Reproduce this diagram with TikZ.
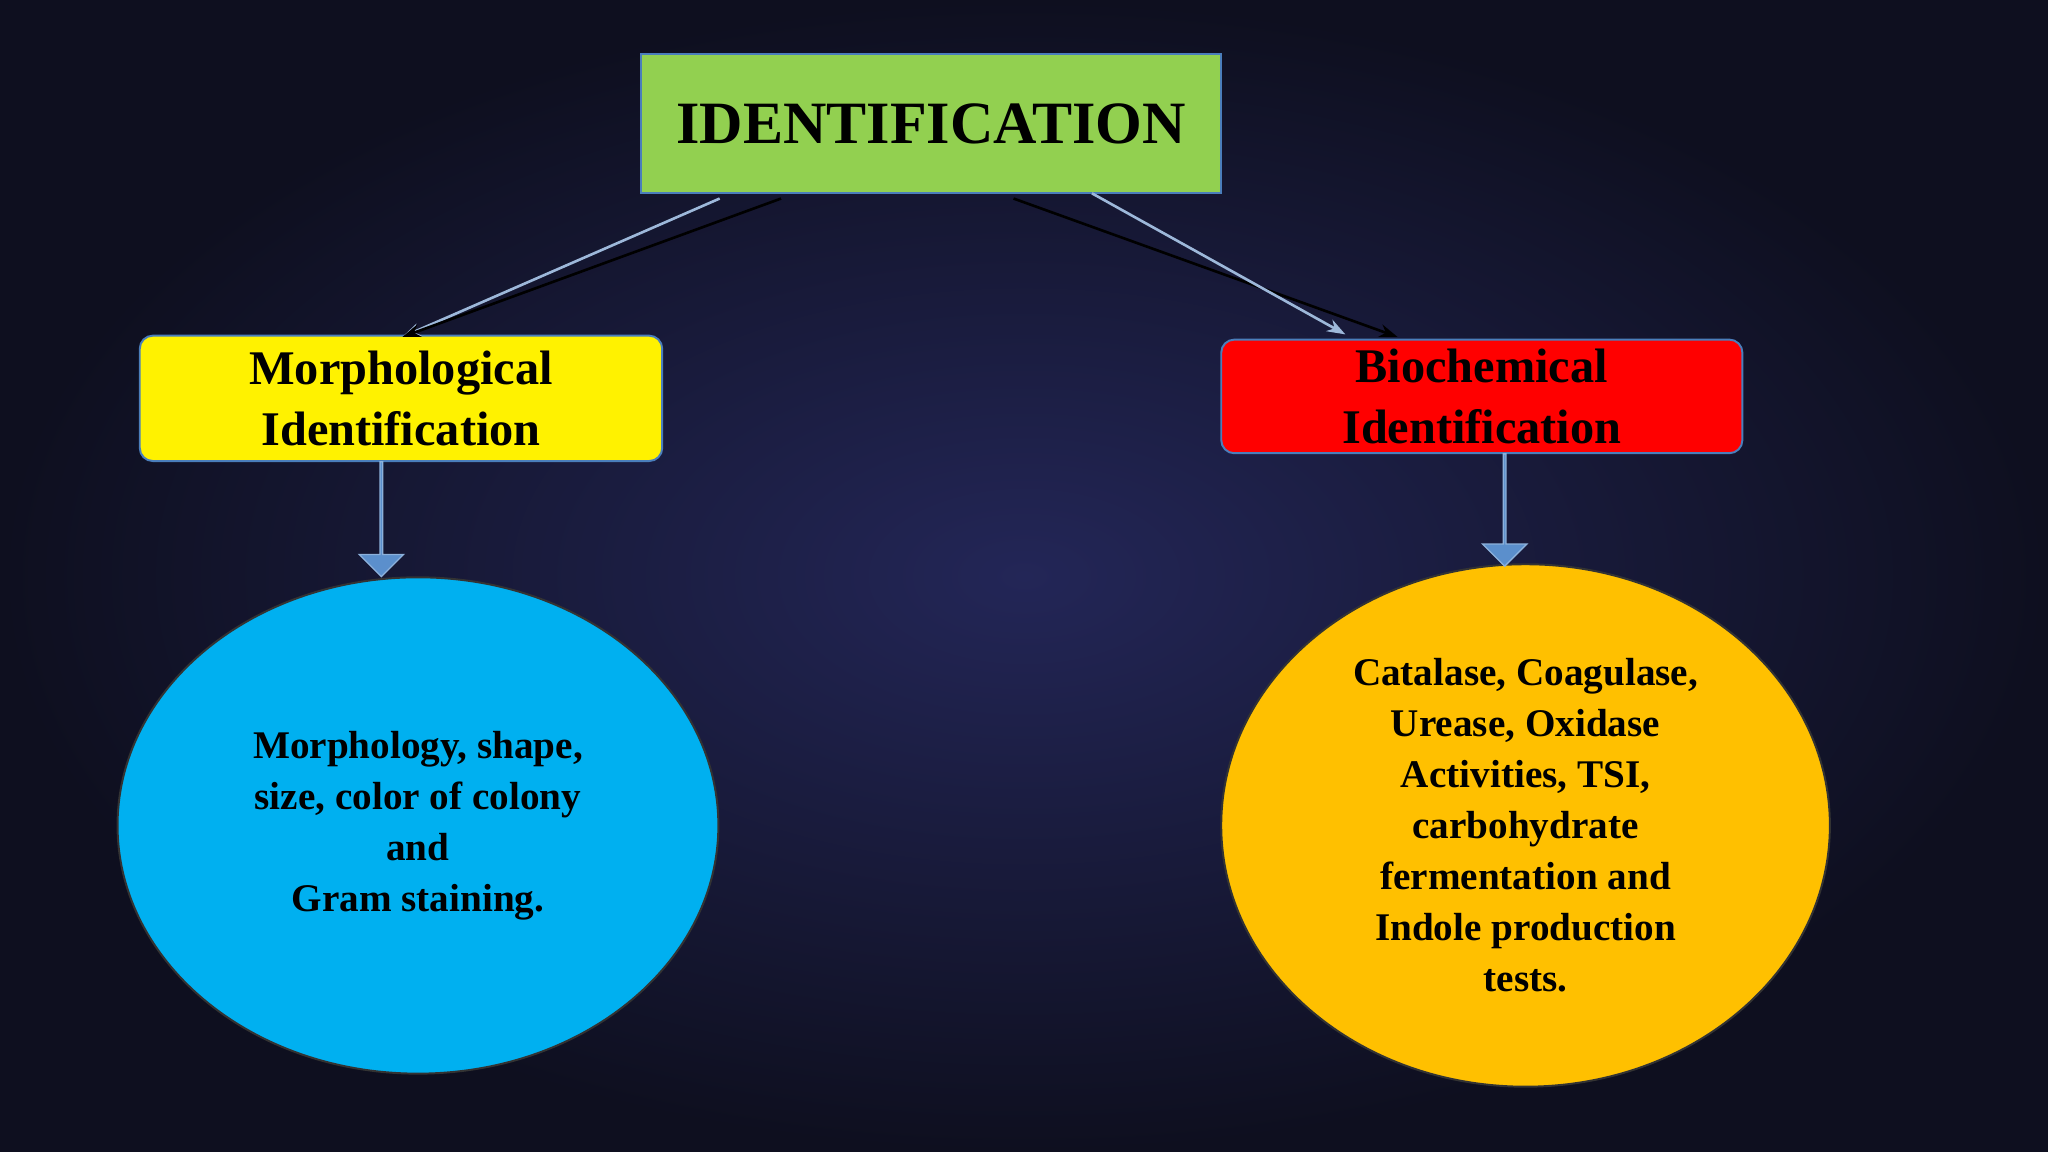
\documentclass[tikz,border=0pt]{standalone}
\usepackage{fontspec}
\setmainfont{Liberation Serif}
\usetikzlibrary{shapes.geometric,shapes.arrows,arrows.meta}
\definecolor{bgin}{HTML}{232657}
\definecolor{bgout}{HTML}{0E0F1F}
\definecolor{boxedge}{HTML}{4A7EBB}
\definecolor{arrfill}{HTML}{5B8FCC}
\definecolor{lblue}{HTML}{9DB8DA}
\tikzset{
  box/.style={draw=boxedge,line width=1.5pt,minimum width=#1,align=center,font=\bfseries},
  oval/.style={ellipse,draw=black!80,line width=1.5pt,align=center,font=\bfseries\fontsize{30}{39}\selectfont},
  downarrow/.style={single arrow,shape border rotate=270,draw=arrfill!70!white,fill=arrfill,line width=1pt,
    single arrow head extend=8pt,single arrow tip angle=90,minimum width=34pt,inner sep=0pt},
  conn/.style={line width=2pt,-{Stealth[length=14pt,width=10pt]}}
}
\begin{document}
\begin{tikzpicture}[x=1pt,y=-1pt]
\shade[inner color=bgin,outer color=bgout] (0,0) rectangle (1568,882);
\useasboundingbox (0,0) rectangle (1568,882);
\node[box=444pt,fill={rgb,255:red,146;green,208;blue,80},minimum height=107pt,font=\bfseries\fontsize{46}{50}\selectfont] (id) at (713,94.5) {IDENTIFICATION};
\node[box=400pt,fill=yellow,rounded corners=10pt,minimum height=96pt,font=\bfseries\fontsize{37}{47}\selectfont] (mo) at (307,305) {Morphological\\Identification};
\node[box=399pt,fill=red,rounded corners=10pt,minimum height=87pt,font=\bfseries\fontsize{37}{47}\selectfont] (bi) at (1134.5,303.5) {Biochemical\\Identification};
\node[oval,fill={rgb,255:red,0;green,176;blue,240},minimum width=460pt,minimum height=380pt] (e1) at (320,632) {Morphology, shape,\\size, color of colony\\and\\ Gram staining.};
\node[oval,fill={rgb,255:red,255;green,192;blue,0},minimum width=466pt,minimum height=400pt] (e2) at (1168,632) {Catalase, Coagulase,\\Urease, Oxidase\\Activities, TSI,\\carbohydrate\\fermentation and\\Indole production\\tests.};
\coordinate (l1) at (551,152); \coordinate (l2) at (598,152);
\coordinate (r1) at (776,152); \coordinate (r2) at (836,148);
\coordinate (lt) at (308,258); \coordinate (rt1) at (1070,258); \coordinate (rt2) at (1030,256);
\draw[conn,lblue] (l1) -- (lt);
\draw[conn,black] (l2) -- (lt);
\draw[conn,black] (r1) -- (rt1);
\draw[conn,lblue] (r2) -- (rt2);
\node[downarrow,minimum height=88pt] (a1) at (292,397) {};
\node[downarrow,minimum height=86pt] (a2) at (1152,390) {};
\end{tikzpicture}
\end{document}
